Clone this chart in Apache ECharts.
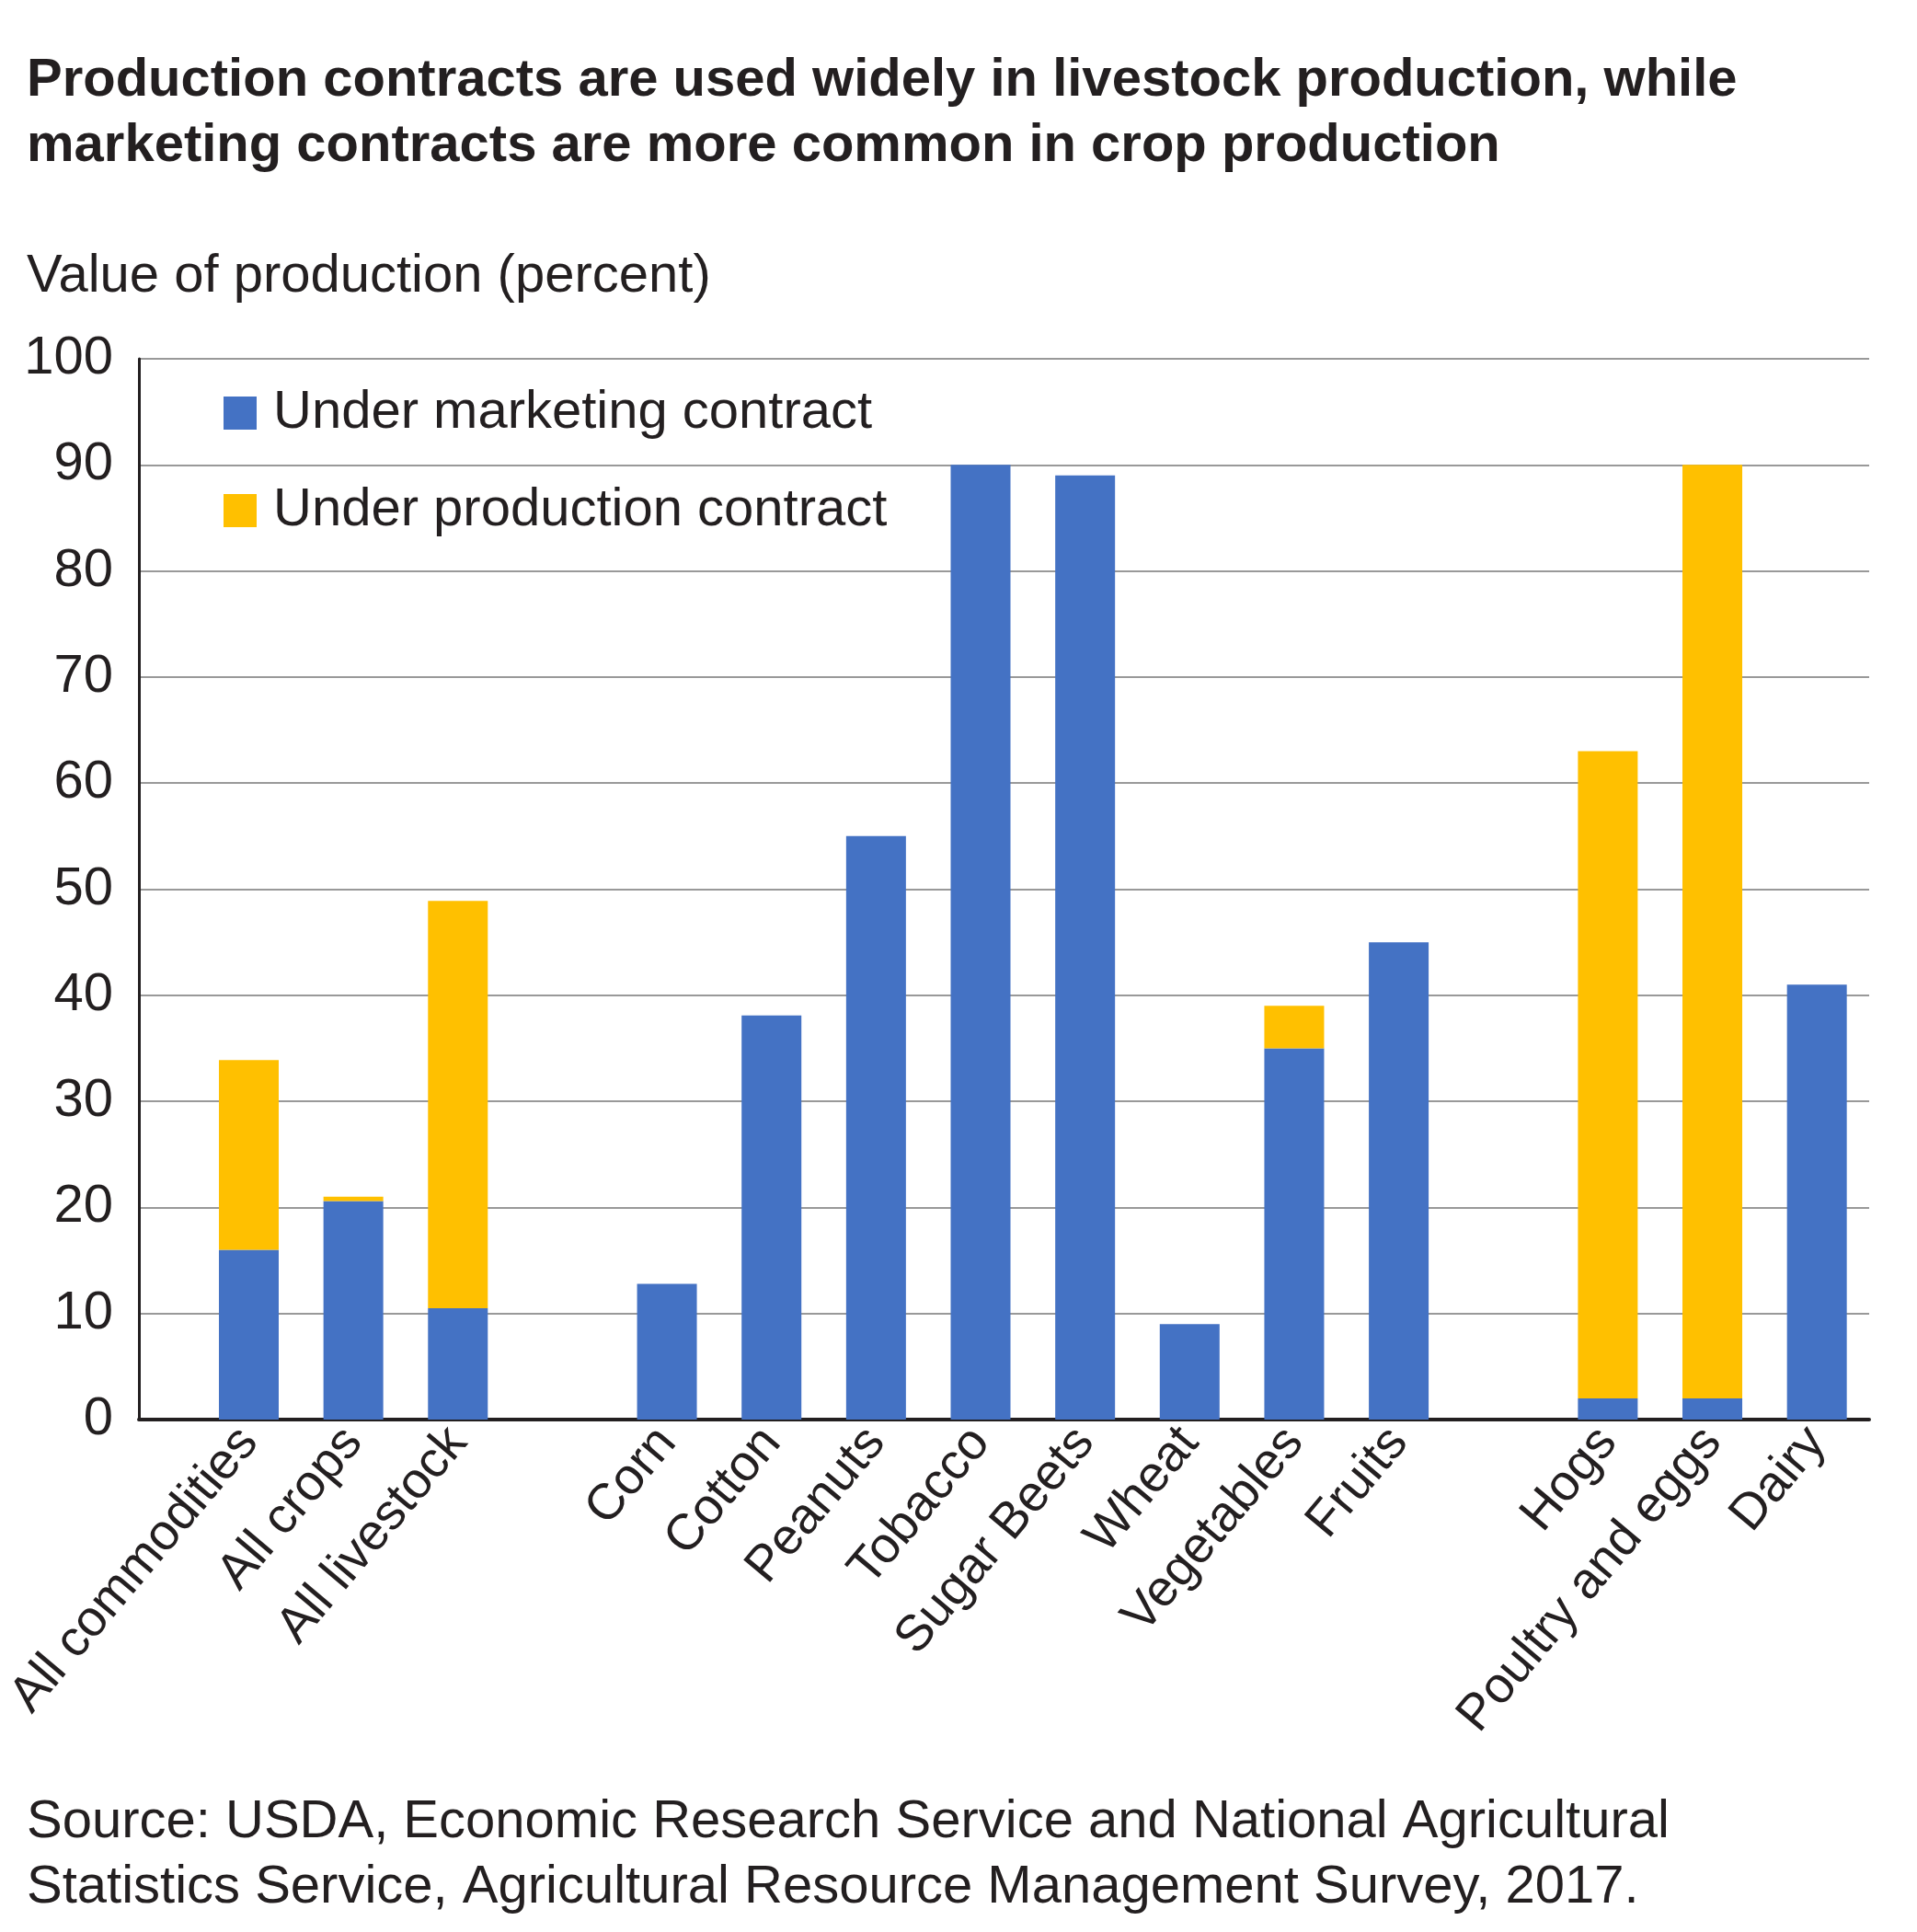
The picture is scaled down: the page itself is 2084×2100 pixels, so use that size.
<!DOCTYPE html>
<html>
<head>
<meta charset="utf-8">
<script src="https://cdn.jsdelivr.net/npm/echarts@6/dist/echarts.min.js"></script>
<style>
html,body{margin:0;padding:0;background:#fff;}
#chart{width:2084px;height:2100px;}
</style>
</head>
<body>
<div id="chart"></div>
<script>
const categories = ["All commodities", "All crops", "All livestock", " ", "Corn", "Cotton", "Peanuts", "Tobacco", "Sugar Beets", "Wheat", "Vegetables", "Fruits", "  ", "Hogs", "Poultry and eggs", "Dairy"];
const marketing = [16, 20.6, 10.5, null, 12.8, 38.1, 55, 90, 89, 9, 35, 45, null, 2, 2, 41];
const production = [17.9, 0.4, 38.4, null, null, null, null, null, null, null, 4, null, null, 61, 88, null];
const yTicks = [0, 10, 20, 30, 40, 50, 60, 70, 80, 90, 100];

const titleLines = ["Production contracts are used widely in livestock production, while", "marketing contracts are more common in crop production"];
const yTitle = "Value of production (percent)";
const sourceLines = ["Source: USDA, Economic Research Service and National Agricultural", "Statistics Service, Agricultural Resource Management Survey, 2017."];

const FONT = '"Liberation Sans", Arial, Helvetica, sans-serif';
const TXT = '#231F20';
const chart = echarts.init(document.getElementById('chart'), null, {renderer: 'canvas'});

chart.setOption({
  backgroundColor: '#ffffff',
  animation: false,
  title: [
    {text: titleLines.join('\n'), left: 24, top: 47,
     textStyle: {fontFamily: FONT, fontWeight: 'bold', fontSize: 58, lineHeight: 71, color: TXT}},
    {text: yTitle, left: 24, top: 264,
     textStyle: {fontFamily: FONT, fontWeight: 'normal', fontSize: 58, lineHeight: 64, color: TXT}},
    {text: sourceLines.join('\n'), left: 24, top: 1940,
     textStyle: {fontFamily: FONT, fontWeight: 'normal', fontSize: 58, lineHeight: 71, color: TXT}}
  ],
  legend: {
    orient: 'vertical', left: 238, top: 415,
    itemWidth: 36, itemHeight: 36, itemGap: 48, icon: 'rect',
    textStyle: {fontFamily: FONT, fontSize: 58, color: TXT, lineHeight: 50, padding: [0, 0, 0, 13]},
    data: ['Under marketing contract', 'Under production contract']
  },
  grid: [
    {left: 151, right: 52, top: 390, bottom: 557, containLabel: false},
    {left: 212, right: 52, top: 390, bottom: 557, containLabel: false}
  ],
  xAxis: [
    {gridIndex: 0, type: 'value', min: 0, max: 1, show: true,
     axisLine: {show: true, onZero: false, lineStyle: {color: TXT, width: 4}},
     axisTick: {show: false}, axisLabel: {show: false}, splitLine: {show: false}},
    {gridIndex: 1, type: 'category', data: categories,
     axisLine: {show: false}, axisTick: {show: false},
     axisLabel: {interval: 0, rotate: 50, margin: 16, fontFamily: FONT, fontSize: 55, color: TXT}}
  ],
  yAxis: [
    {gridIndex: 0, type: 'value', min: 0, max: 100, interval: 10,
     axisLine: {show: true, lineStyle: {color: TXT, width: 3}},
     axisTick: {show: false},
     axisLabel: {margin: 28, fontFamily: FONT, fontSize: 58, color: TXT,
       formatter: v => yTicks.includes(v) ? String(v) : ''},
     splitLine: {show: true, lineStyle: {color: '#999999', width: 2}}},
    {gridIndex: 1, type: 'value', min: 0, max: 100, show: false}
  ],
  series: [
    {name: 'Under marketing contract', type: 'bar', stack: 'total', xAxisIndex: 1, yAxisIndex: 1,
     barWidth: 65, data: marketing, itemStyle: {color: '#4472C4'}},
    {name: 'Under production contract', type: 'bar', stack: 'total', xAxisIndex: 1, yAxisIndex: 1,
     barWidth: 65, data: production, itemStyle: {color: '#FFC000'}}
  ]
});
</script>
</body>
</html>
